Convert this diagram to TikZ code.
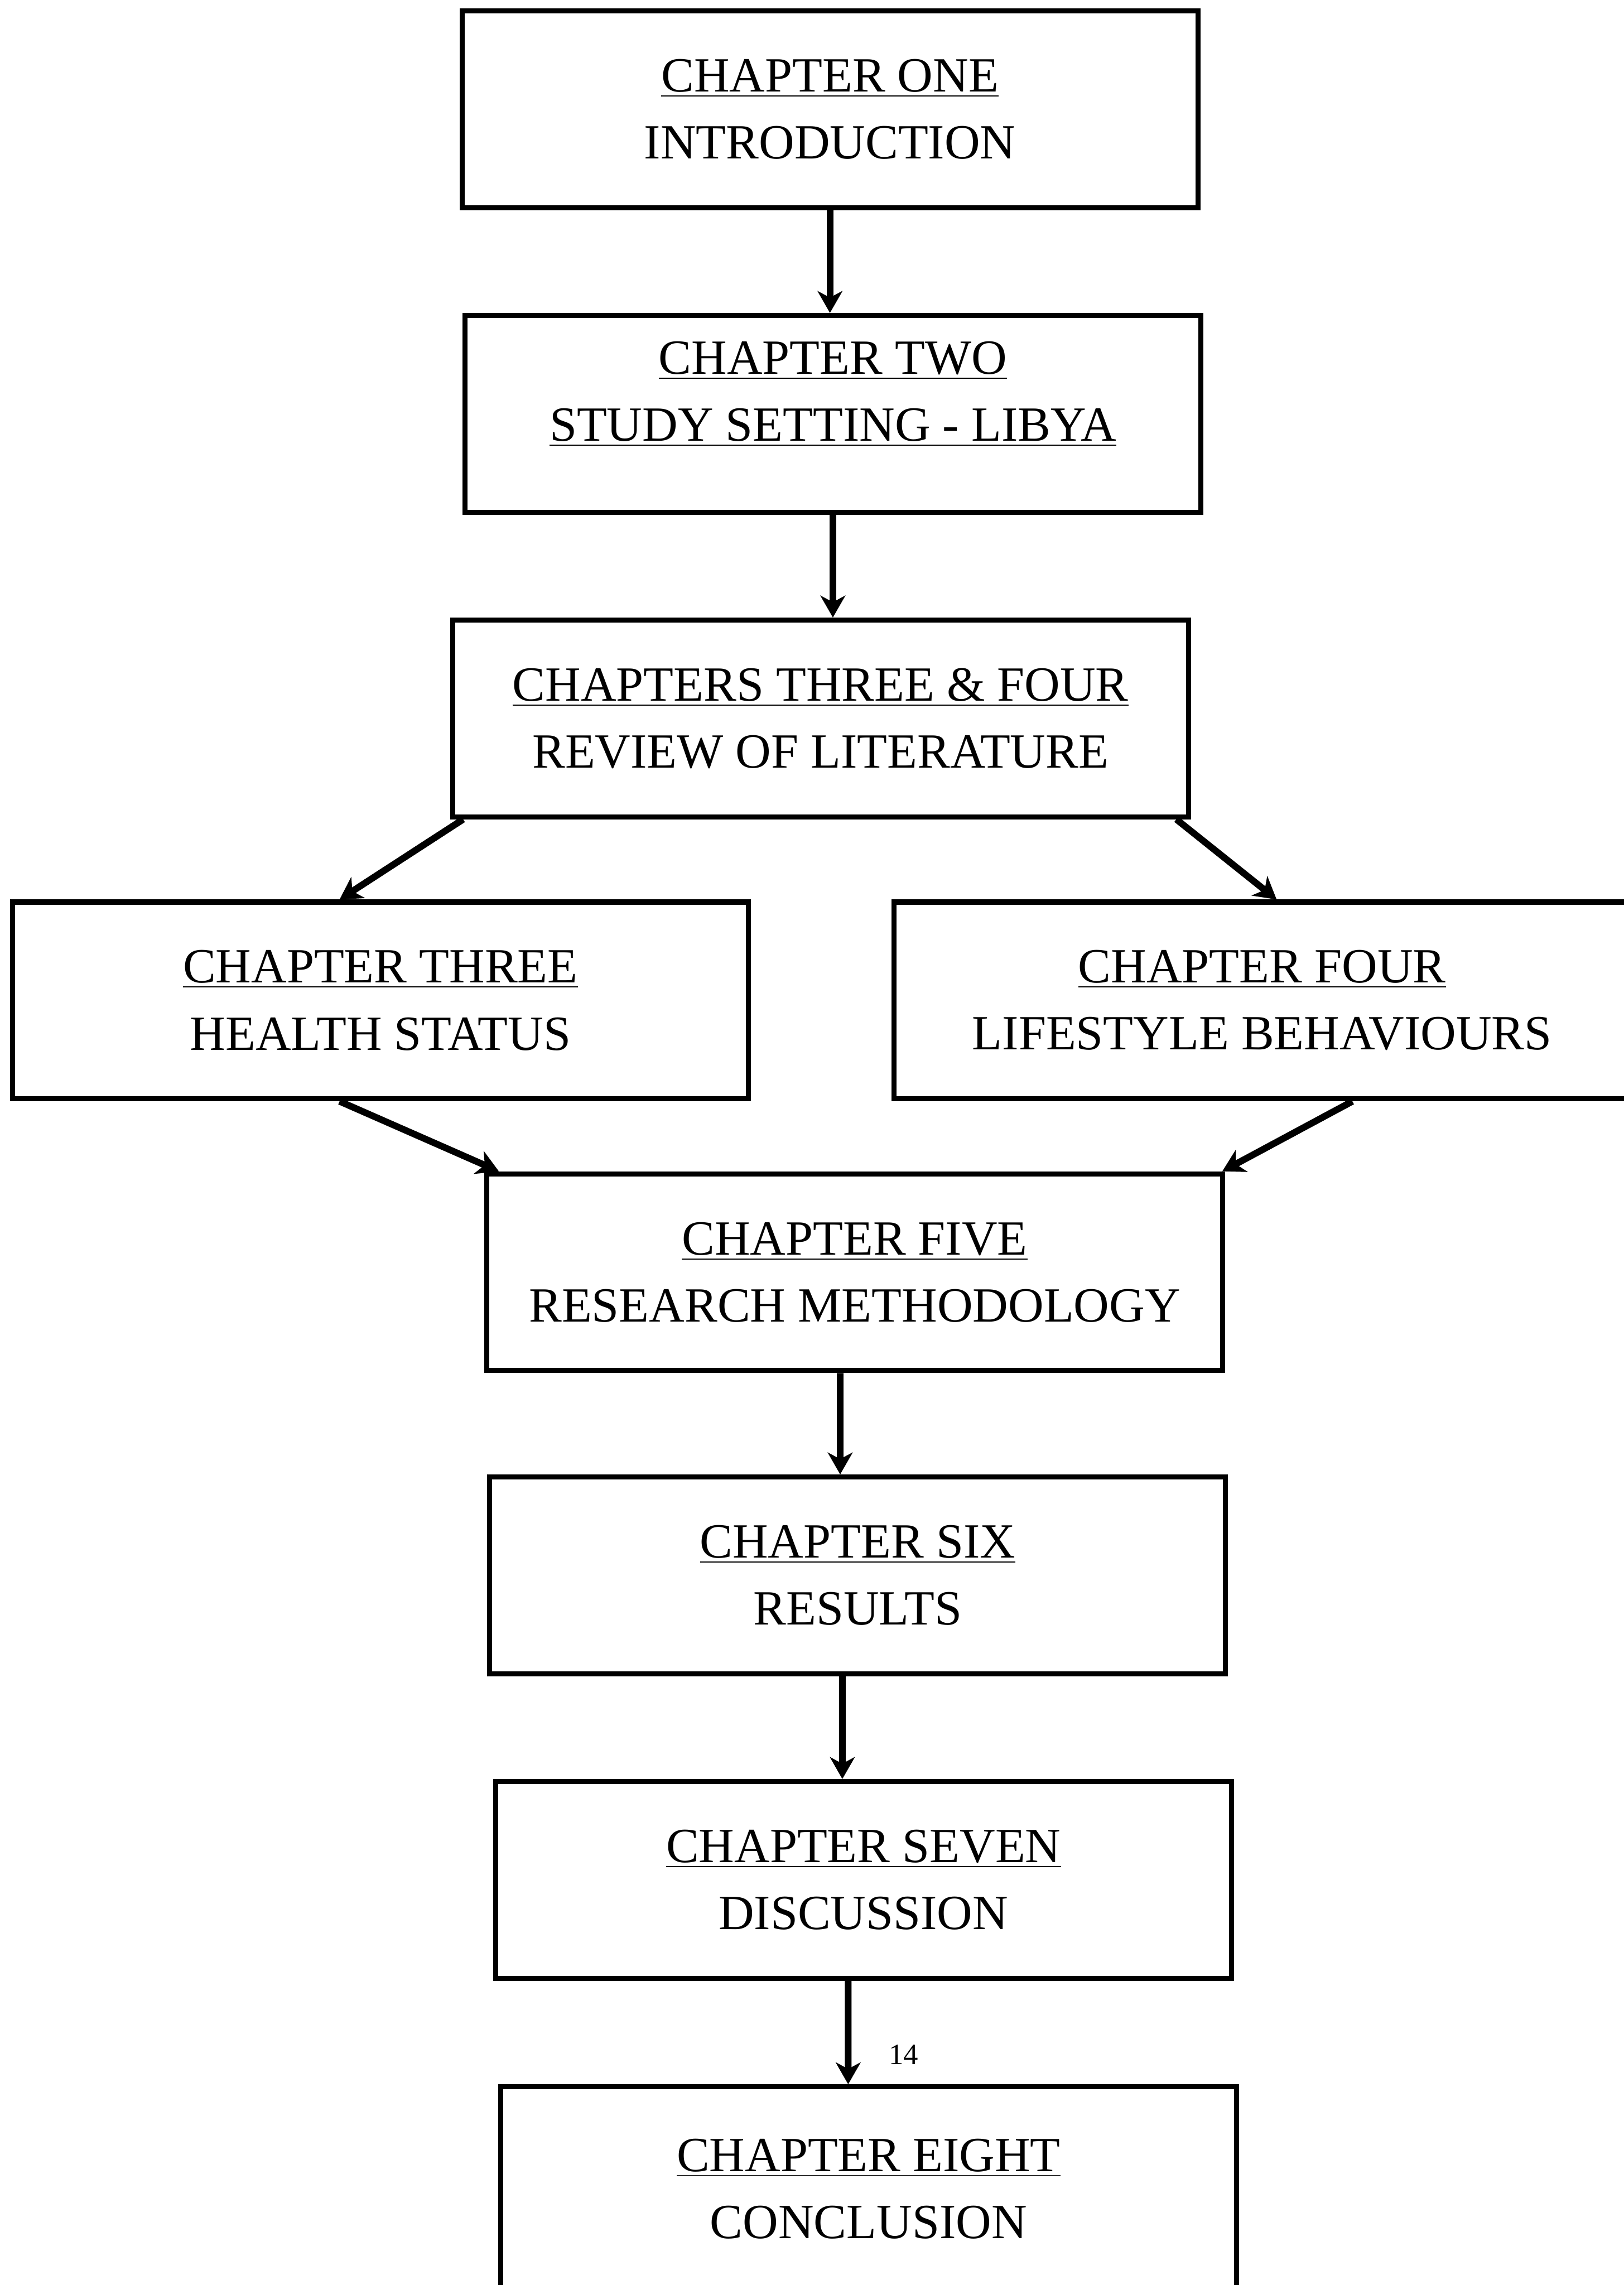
\documentclass[tikz,border=0pt]{standalone}
\usepackage{fontspec}
\setmainfont{Liberation Serif}
\usetikzlibrary{arrows.meta}
\newcommand{\chapline}[1]{\underline{#1}}

\begin{document}
\begin{tikzpicture}[x=0.02cm, y=-0.02cm,
    box/.style={draw, line width=2pt, minimum width=#1, minimum height=2.7cm, align=center, inner sep=2pt, font=\fontsize{19.2}{26.2}\selectfont},
    link/.style={line width=2.6pt, -{Stealth[length=0.3cm, width=0.34cm, inset=0.09cm]}},
    pnum/.style={font=\fontsize{11.5}{13}\selectfont}
  ]
    \useasboundingbox (0,0) rectangle (1114,1568);

    % Chapters one to three & four
    \node[box=10.1cm] (intro)   at (569.5,75)  {\chapline{CHAPTER ONE}\\ INTRODUCTION};
    \node[box=10.1cm, text depth=0.62cm] (setting) at (571.5,284) {\chapline{CHAPTER TWO}\\ \chapline{STUDY SETTING - LIBYA}};
    \node[box=10.1cm] (review)  at (563,493)   {\chapline{CHAPTERS THREE \& FOUR}\\ REVIEW OF LITERATURE};

    % Split
    \node[box=10.1cm] (health)    at (261,686.5) {\chapline{CHAPTER THREE}\\ HEALTH STATUS};
    \node[box=10.1cm] (lifestyle) at (866,686.5) {\chapline{CHAPTER FOUR}\\ LIFESTYLE BEHAVIOURS};

    % Chapters five to eight
    \node[box=10.1cm] (method)     at (586.5,873)  {\chapline{CHAPTER FIVE}\\ RESEARCH METHODOLOGY};
    \node[box=10.1cm] (results)    at (588.5,1081) {\chapline{CHAPTER SIX}\\ RESULTS};
    \node[box=10.1cm] (discussion) at (592.5,1290) {\chapline{CHAPTER SEVEN}\\ DISCUSSION};
    \node[box=10.1cm, minimum height=2.8cm] (conclusion) at (596,1502) {\chapline{CHAPTER EIGHT}\\ CONCLUSION};

    \node[pnum] (pagenum) at (620,1410) {14};

    % Arrows
    \draw[link] (intro.south) -- (intro.south |- setting.north);
    \draw[link] (setting.south) -- (setting.south |- review.north);
    \draw[link] ([xshift=0.18cm]review.south west) -- ([xshift=-0.56cm]health.north);
    \draw[link] ([xshift=-0.2cm]review.south east) -- ([xshift=0.2cm]lifestyle.north);
    \draw[link] ([xshift=-0.56cm]health.south) -- ([xshift=0.2cm]method.north west);
    \draw[link] ([xshift=1.24cm]lifestyle.south) -- ([xshift=-0.04cm]method.north east);
    \draw[link] ([xshift=-0.2cm]method.south) -- ([xshift=-0.24cm]results.north);
    \draw[link] ([xshift=-0.21cm]results.south) -- ([xshift=-0.29cm]discussion.north);
    \draw[link] ([xshift=-0.21cm]discussion.south) -- ([xshift=-0.28cm]conclusion.north);
\end{tikzpicture}
\end{document}
